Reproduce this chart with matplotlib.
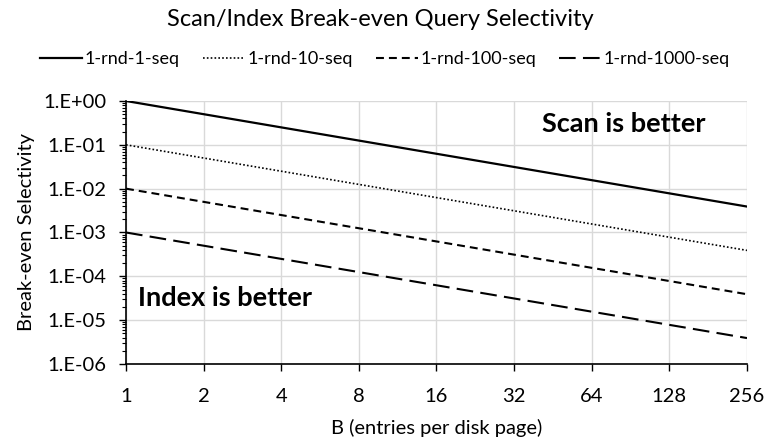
import matplotlib
matplotlib.use("Agg")
import matplotlib.pyplot as plt
from matplotlib.ticker import FixedLocator, FixedFormatter, LogLocator, NullFormatter

plt.rcParams['font.family'] = ['Lato', 'DejaVu Sans']

# page sizes B and break-even selectivity for each rnd/seq cost ratio
B = [1, 2, 4, 8, 16, 32, 64, 128, 256]
sel_1 = [1.0, 0.5, 0.25, 0.125, 0.0625, 0.03125, 0.015625, 0.0078125, 0.00390625]
sel_10 = [0.1, 0.05, 0.025, 0.0125, 0.00625, 0.003125, 0.0015625, 0.00078125, 0.000390625]
sel_100 = [0.01, 0.005, 0.0025, 0.00125, 0.000625, 0.0003125, 0.00015625, 7.8125e-05, 3.90625e-05]
sel_1000 = [0.001, 0.0005, 0.00025, 0.000125, 6.25e-05, 3.125e-05, 1.5625e-05, 7.8125e-06, 3.90625e-06]

x_labels = ['1', '2', '4', '8', '16', '32', '64', '128', '256']
y_ticks = [1e0, 1e-1, 1e-2, 1e-3, 1e-4, 1e-5, 1e-6]
y_labels = ['1.E+00', '1.E-01', '1.E-02', '1.E-03', '1.E-04', '1.E-05', '1.E-06']

fig = plt.figure(figsize=(7.67, 4.41), dpi=100)
ax = fig.add_axes([0.1643, 0.1746, 0.8096, 0.5964])

l1, = ax.plot(B, sel_1, color='black', linestyle='-', linewidth=1.6, label='1-rnd-1-seq')
l2, = ax.plot(B, sel_10, color='black', linestyle=(0, (1, 1.3)), linewidth=1.2, label='1-rnd-10-seq')
l3, = ax.plot(B, sel_100, color='black', linestyle=(0, (3.8, 2.4)), linewidth=1.5, label='1-rnd-100-seq')
l4, = ax.plot(B, sel_1000, color='black', linestyle=(0, (8, 3.5)), linewidth=1.5, label='1-rnd-1000-seq')

ax.set_xscale('log', base=2)
ax.set_yscale('log')
ax.set_xlim(1, 256)
ax.set_ylim(1e-6, 1)

ax.xaxis.set_major_locator(FixedLocator(B))
ax.xaxis.set_major_formatter(FixedFormatter(x_labels))
ax.xaxis.set_minor_locator(FixedLocator([]))
ax.yaxis.set_major_locator(FixedLocator(y_ticks))
ax.yaxis.set_major_formatter(FixedFormatter(y_labels))
ax.yaxis.set_minor_locator(LogLocator(base=10, subs=range(2, 10), numticks=20))
ax.yaxis.set_minor_formatter(NullFormatter())

ax.grid(True, which='major', color='#d9d9d9', linewidth=1)
ax.set_axisbelow(True)
for side in ['top', 'right']:
    ax.spines[side].set_visible(False)
ax.spines['left'].set_linewidth(1.2)
ax.spines['bottom'].set_linewidth(1.2)

ax.tick_params(axis='both', which='major', length=5, width=1, labelsize=14.5, colors='black')
ax.tick_params(axis='y', which='minor', length=3, width=0.8)
ax.tick_params(axis='y', which='major', pad=9)
ax.tick_params(axis='x', which='major', pad=12)

ax.set_xlabel('B (entries per disk page)', fontsize=14.5, labelpad=10)
ax.set_ylabel('Break-even Selectivity', fontsize=14.5, labelpad=6)

fig.text(0.496, 0.955, 'Scan/Index Break-even Query Selectivity', ha='center', va='center', fontsize=17)
fig.legend(handles=[l1, l2, l3, l4], loc='center', bbox_to_anchor=(0.502, 0.866), ncol=4,
           frameon=False, fontsize=13, handlelength=2.3, handletextpad=0.15, columnspacing=1.3)

ax.text(0.67, 0.913, 'Scan is better', transform=ax.transAxes, fontsize=19.5, fontweight='bold', va='center')
ax.text(0.019, 0.25, 'Index is better', transform=ax.transAxes, fontsize=19.5, fontweight='bold', va='center')

fig.savefig('out.png', dpi=100)
